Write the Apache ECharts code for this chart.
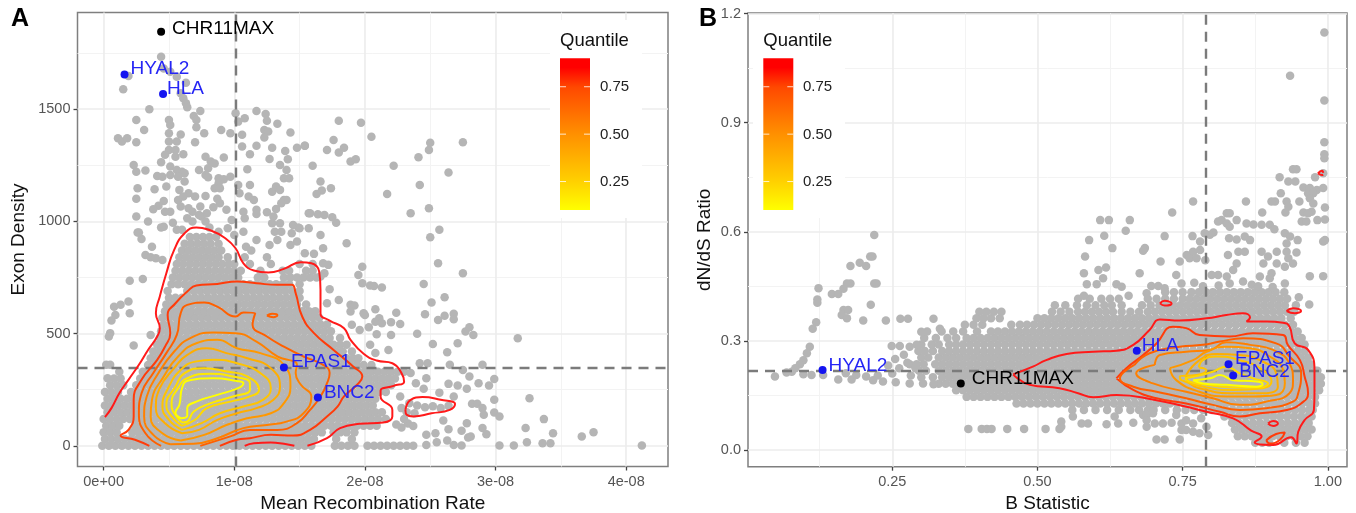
<!DOCTYPE html>
<html>
<head>
<meta charset="utf-8">
<title>Exon density and dN/dS</title>
<script src="https://cdn.jsdelivr.net/npm/echarts@6/dist/echarts.min.js"></script>
<style>
  html, body { margin: 0; padding: 0; background: #fff; }
  #main { width: 1356px; height: 513px; }
</style>
</head>
<body>
<div id="main"></div>
<script>
// panel A: x is in units of 1e-10, y is exon density
const ticksXA = [0, 100, 200, 300, 400];
const labelsXA = ['0e+00', '1e-08', '2e-08', '3e-08', '4e-08'];
const ticksYA = [0, 500, 1000, 1500];
const minorXA = [50, 150, 250, 350];
const minorYA = [250, 750, 1250, 1750];
const cutXA = 101;
const cutYA = 347;

// panel B: x and y are in thousandths
const ticksXB = [250, 500, 750, 1000];
const labelsXB = ['0.25', '0.50', '0.75', '1.00'];
const ticksYB = [0, 300, 600, 900, 1200];
const labelsYB = ['0.0', '0.3', '0.6', '0.9', '1.2'];
const minorXB = [125, 375, 625, 875];
const minorYB = [150, 450, 750, 1050];
const cutXB = 790;
const cutYB = 219;

const geneNames = ['CHR11MAX', 'HYAL2', 'HLA', 'EPAS1', 'BNC2'];
const geneColors = ['#000000', '#1414f0', '#1414f0', '#1414f0', '#1414f0'];
const geneXA = [44, 16, 45.5, 138, 164];
const geneYA = [1844, 1654, 1567, 349, 215];
const geneXB = [368, 130, 671, 829, 837];
const geneYB = [183, 220, 273, 236, 205];

const legendTicks = [0.25, 0.5, 0.75];

// panel A gray points, thick part, [y, [x...]]
const rowsA = [
  [0, [-1,4,9,14,19,24,29,34,39,44,49,54,59,64,69,74,79,84,89,94,99,104,109,114,119,124,129,134,139,144,149,154,159,177,182,187,192,202,207,212,217,222,227,232,237]],
  [30, [1,6,11,16,21,26,31,36,41,46,51,56,61,66,71,76,81,86,91,96,101,106,111,116,121,126,131,136,141,146,151,156,161,178,190]],
  [60, [0,5,10,22,27,32,37,42,47,52,57,62,67,72,77,82,87,92,97,102,107,112,117,122,127,132,137,142,147,152,157,162,167,176,181,186,192]],
  [90, [2,7,12,24,29,34,39,44,49,54,59,64,69,74,79,84,89,94,99,104,109,114,119,124,129,134,139,144,149,154,159,164,169,174,179,184,189,194,199,204,209]],
  [120, [0,5,10,15,20,25,30,35,40,45,50,55,60,65,70,75,80,85,90,95,100,105,110,115,120,125,130,135,140,145,150,155,160,165,170,175,180,185,190,195,200,205,210,216]],
  [150, [3,8,13,18,23,28,33,38,43,48,53,58,63,68,73,78,83,88,93,98,103,108,113,118,123,128,133,138,143,148,153,158,163,168,173,178,183,188,193,198,203,208,213]],
  [180, [1,6,11,16,21,26,31,36,41,46,51,56,61,66,71,76,81,86,91,96,101,106,111,116,121,126,131,136,141,146,151,156,161,166,171,176,181,186,191,196,201,206]],
  [210, [3,8,13,18,23,28,33,38,43,48,53,58,63,68,73,78,83,88,93,98,103,108,113,118,123,128,133,138,143,148,153,158,163,168,173,178,183,188,193,198,203,208]],
  [240, [1,6,11,21,26,31,36,41,46,51,56,61,66,71,76,81,86,91,96,101,106,111,116,121,126,131,136,141,146,151,156,161,166,171,176,181,186,191,196,201,206,211,216]],
  [270, [5,10,15,25,30,35,40,45,50,55,60,65,70,75,80,85,90,95,100,105,110,115,120,125,130,135,140,145,150,155,160,165,170,175,180,185,190,195,200,205,210,215,220]],
  [300, [8,13,28,33,38,43,48,53,58,63,68,73,78,83,88,93,98,103,108,113,118,123,128,133,138,143,148,153,158,163,168,173,178,183,188,193,198,203,208,213,218,223]],
  [330, [12,30,35,40,45,50,55,60,65,70,75,80,85,90,95,100,105,110,115,120,125,130,135,140,145,150,155,160,165,170,175,180,185,190,195,200,205,210,215,220,225,230]],
  [360, [34,39,44,49,54,59,64,69,74,79,84,89,94,99,104,109,114,119,124,129,134,139,144,149,154,159,164,169,174,179,184,189,194,199,205]],
  [390, [36,41,46,51,56,61,66,71,76,81,86,91,96,101,106,111,116,121,126,131,136,141,146,151,156,161,166,171,176,181,186,191,195]],
  [420, [38,43,48,53,58,63,68,73,78,83,88,93,98,103,108,113,118,123,128,133,138,143,148,153,158,163,168,173,178,183,190]],
  [450, [41,46,51,56,61,66,71,76,81,86,91,96,101,106,111,116,121,126,131,136,141,146,151,156,161,166,171,176,181,186]],
  [480, [43,48,53,58,63,68,73,78,83,88,93,98,103,108,113,118,123,128,133,138,143,148,153,158,163,168,173,181]],
  [510, [44,49,54,59,64,69,74,79,84,89,94,99,104,109,114,119,124,129,134,139,144,149,154,159,164,169,174]],
  [540, [46,51,56,61,66,71,76,81,86,91,96,101,106,111,116,121,126,131,136,141,146,151,156,161,166,171]],
  [570, [45,50,55,60,65,70,75,80,85,90,95,100,105,110,115,120,125,130,135,140,145,150,155,160,165]],
  [600, [47,52,57,62,67,72,77,82,87,92,97,102,107,112,117,122,127,132,137,142,147,152,157,162]],
  [630, [48,53,58,63,68,73,78,83,88,93,98,103,108,113,118,123,128,133,138,143,148,155]],
  [660, [50,55,60,65,70,75,80,85,90,95,100,105,110,115,120,125,130,135,140,145,150]],
  [690, [49,64,69,74,79,84,89,94,99,104,109,114,119,124,129,134,139,144,150]],
  [720, [52,57,62,67,72,77,82,87,92,97,102,107,112,117,122,127,132,137,142,150]],
  [750, [53,58,63,68,73,78,83,88,93,98,103,118,123,138,143,148,153,158,163]],
  [780, [55,60,65,70,75,80,85,90,95,100,105,120,137,142,155,160]],
  [810, [56,61,66,71,76,81,86,91,96,100,112,128,150,160]],
  [840, [58,63,68,73,78,83,88,95,108,125]],
  [870, [60,65,70,75,80,85,90,113]],
  [900, [62,67,72,77,82,88]],
  [930, [66,71,76,81,86]]
];

// panel A gray points, thin part
const scatteredA = [
  [44,1733],[19,1647],[15,1588],[46,1681],[51,1666],[56,1644],[63,1617],[59,1570],[61,1548],
  [35,1499],[25,1451],[31,1407],[11,1370],[14,1355],[18,1370],[25,1352],[63,1526],[64,1508],[69,1469],[74,1491],[71,1451],[71,1419],[77,1392],[90,1407],[97,1392],[101,1481],[103,1444],[108,1459],[106,1385],[117,1491],[124,1478],[125,1448],[133,1434],[123,1407],[126,1400],[123,1373],[143,1396],[70,1352],[106,1333],[117,1337],[129,1328],[112,1299],[139,1313],[148,1328],[154,1337],[127,1278],[141,1276],
  [50,1451],[51,1429],[50,1392],[59,1387],[50,1355],[56,1355],[50,1318],[55,1318],[61,1299],[47,1296],[55,1288],[44,1263],[78,1288],[82,1266],[85,1258],[92,1284],[23,1251],[25,1221],[32,1226],
  [51,1244],[56,1229],[60,1221],[62,1214],[51,1206],[41,1202],[45,1199],[57,1199],[62,1177],[73,1229],[80,1236],[78,1206],[80,1196],[88,1192],[92,1187],[97,1199],[88,1169],[85,1147],[89,1147],[110,1232],[112,1162],[140,1229],[135,1251],[138,1192],[142,1192],
  [48,1155],[39,1143],[26,1147],[58,1140],[25,1100],[65,1125],[61,1110],[70,1110],[78,1113],[87,1100],[89,1080],[57,1095],[59,1066],[46,1091],[42,1069],[38,1054],[51,1043],[47,1043],[65,1058],[74,1066],[68,1043],[84,1063],[94,1051],[79,1036],[75,1021],[78,999],[73,1028],[64,1014],[68,999],[25,1021],[34,999],[103,1162],[104,1125],[111,1110],[115,1095],[129,1132],[132,1155],[135,1140],[138,1095],[140,1095],[136,1080],[107,1043],[108,1014],[117,1051],[117,1033],[125,1040],[132,1055],[157,1036],[98,1006],[130,1021],[129,991],[135,991],[131,954],[136,954],[145,984],[149,972],[144,947],[148,910],[133,917],[127,895],[143,895],[107,954],[100,939],[95,969],[117,917],[109,887],[26,950],[29,921],[37,887],[46,976],[44,973],[53,994],[56,962],[60,962],[81,972],[88,954],
  [180,1448],[197,1439],[205,1377],[154,1337],[176,1362],[171,1318],[180,1306],[184,1328],[189,1266],[193,1276],[160,1247],[250,1350],[249,1318],[275,1352],[241,1285],[222,1247],[264,1217],[166,1177],[242,1162],[174,1147],[167,1137],[163,1122],[217,1122],[235,1036],[249,1058],[158,1036],[164,1031],[169,1028],[175,1018],[178,994],[150,969],[157,969],[166,939],[168,880],[186,902],[257,962],[250,929],[154,858],[161,855],[256,813],[275,769],[198,798],[195,761],[198,724],[204,714],[207,712],[213,705],[245,721],[168,813],[172,806],[169,769],[166,754],[173,697],[171,635],[180,650],[189,628],[192,625],[189,598],[208,608],[199,590],[200,583],[224,593],[211,568],[208,553],[213,546],[220,551],[227,543],[251,638],[261,662],[246,586],[261,579],[256,561],[268,588],[268,564],[190,539],[196,516],[203,528],[220,494],[240,499],[209,497],[204,450],[208,413],[218,427],[252,454],[271,457],[263,417],[277,509],[280,528],[283,494],[317,479],[242,368],[248,368],[265,361],[290,361],[275,338],[280,309],[287,279],[295,269],[299,298],[247,301],[264,276],[271,269],[278,254],[245,254],[257,237],[268,220],[299,205],[326,212],[282,187],[286,187],[290,168],[291,138],[299,148],[303,131],[337,119],[260,113],[278,101],[264,74],[274,67],[279,37],[281,42],[290,79],[293,52],[323,79],[344,56],[366,42],[375,61],[412,1],[303,1],[314,1],[324,16],[336,12],[342,12],[247,49],[254,56],[247,4],[255,16],[263,24],[268,4],[274,1],
  [227,220],[228,168],[239,279],[235,324],[234,190],[240,180],[246,172],[252,176],[258,168],[264,178],[232,150],[238,145],[224,95],[228,82],[233,100],[237,88],[230,120],
  [8,620],[13,628],[19,643],[9,583],[6,558],[20,591],[5,502],[4,487],[36,494],[23,447],[20,735],[30,743],[2,361],[5,361],[3,301],[32,850],[36,840],[40,835],[45,828],[27,950]
];

// panel A contour lines, outermost first
const contourA1 = [[1,128],[6,168],[12,234],[19,294],[27,361],[34,427],[41,487],[43,524],[40,591],[43,665],[48,769],[54,873],[62,947],[71,973],[82,959],[92,929],[101,880],[107,813],[115,781],[126,772],[138,788],[151,818],[159,813],[165,776],[166,695],[166,591],[173,558],[184,524],[189,472],[199,410],[209,380],[221,368],[228,324],[230,286],[222,267],[212,246],[212,220],[221,160],[221,131],[214,104],[196,98],[181,79],[171,34],[156,0]];
const contourA1b = [[108,0],[115,12],[128,15],[138,9],[146,0]];
const contourA1c = [[231,160],[235,205],[244,217],[258,205],[269,187],[265,160],[251,145],[237,131],[232,138],[231,160]];
const contourA2 = [[35,0],[24,27],[13,46],[19,71],[23,131],[23,205],[29,294],[41,383],[47,442],[51,502],[49,583],[55,635],[64,687],[71,714],[87,721],[102,732],[117,724],[133,717],[144,717],[147,680],[152,576],[161,502],[176,427],[191,353],[198,309],[194,272],[184,220],[179,175],[171,131],[158,71],[145,46],[128,49],[112,34],[102,27],[89,0]];
const contourA3 = [[44,0],[32,56],[27,145],[29,234],[38,324],[48,413],[56,494],[59,591],[64,628],[77,638],[87,620],[101,576],[107,594],[116,591],[114,539],[125,487],[138,442],[153,398],[168,361],[173,324],[171,279],[166,220],[158,160],[148,101],[133,71],[112,71],[97,42],[74,0]];
const contourA3b = [[125,580],[129,588],[133,582],[130,573],[125,580]];
const contourA4 = [[51,7],[38,49],[31,131],[33,220],[42,324],[54,420],[66,479],[84,505],[101,502],[117,464],[133,398],[148,361],[147,324],[151,272],[159,220],[153,145],[140,108],[125,93],[107,79],[87,34],[69,9],[51,7]];
const contourA5 = [[59,24],[45,56],[36,131],[37,205],[46,309],[57,398],[71,457],[87,472],[102,435],[120,413],[138,361],[143,264],[138,190],[128,145],[110,123],[94,93],[77,49],[59,24]];
const contourA6 = [[60,56],[47,101],[40,168],[43,257],[54,346],[64,405],[79,435],[94,413],[110,390],[128,346],[135,264],[130,205],[117,168],[102,145],[87,116],[73,71],[60,56]];
const contourA7 = [[60,71],[50,116],[45,175],[50,264],[59,338],[70,375],[84,383],[102,368],[120,324],[128,257],[122,205],[107,175],[89,145],[75,101],[60,71]];
const contourA8 = [[60,89],[52,131],[48,183],[55,264],[62,324],[77,346],[94,331],[110,309],[119,249],[112,220],[97,197],[79,168],[70,116],[60,89]];
const contourA9 = [[60,104],[54,145],[52,190],[57,257],[64,301],[82,321],[99,309],[112,279],[112,249],[99,220],[82,190],[69,153],[64,108],[60,104]];
const contourA10 = [[59,123],[55,148],[58,183],[60,257],[65,291],[84,301],[102,289],[107,279],[103,257],[87,227],[71,197],[64,168],[64,134],[59,123]];

// panel B gray points, thick part, [y, [x...]]
const rowsB = [
  [20, [875,887,899,925,945,960]],
  [38, [845,857,869,881,893,905,917,929,941,953,965]],
  [56, [840,852,864,876,888,900,912,924,936,948,960,972]],
  [74, [835,847,859,871,883,895,907,919,931,943,955,967]],
  [92, [822,834,846,858,870,882,894,906,918,930,942,954,966,972]],
  [110, [560,580,600,620,640,660,675,690,700,720,740,755,770,785,800,812,824,836,848,860,872,884,896,908,920,932,944,956,968,974]],
  [128, [464,476,488,500,512,524,536,548,560,572,584,596,608,620,632,644,656,668,680,692,704,716,728,740,752,764,776,788,800,812,824,836,848,860,872,884,896,908,920,932,944,956,968,978]],
  [146, [378,390,402,414,426,438,450,462,474,486,498,510,522,534,546,558,570,582,594,606,618,630,642,654,666,678,690,702,714,726,738,750,762,774,786,798,810,822,834,846,858,870,882,894,906,918,930,942,954,966,978]],
  [164, [360,372,384,396,408,420,432,444,456,468,480,492,504,516,528,540,552,564,576,588,600,612,624,636,648,660,672,684,696,708,720,732,744,756,768,780,792,804,816,828,840,852,864,876,888,900,912,924,936,948,960,972,985]],
  [182, [330,342,354,366,378,390,402,414,426,438,450,462,474,486,498,510,522,534,546,558,570,582,594,606,618,630,642,654,666,678,690,702,714,726,738,750,762,774,786,798,810,822,834,846,858,870,882,894,906,918,930,942,954,966,978,988]],
  [200, [300,320,336,348,360,372,384,396,408,420,432,444,456,468,480,492,504,516,528,540,552,564,576,588,600,612,624,636,648,660,672,684,696,708,720,732,744,756,768,780,792,804,816,828,840,852,864,876,888,900,912,924,936,948,960,972,984,988]],
  [218, [296,308,330,342,354,366,378,390,402,414,426,438,450,462,474,486,498,510,522,534,546,558,570,582,594,606,618,630,642,654,666,678,690,702,714,726,738,750,762,774,786,798,810,822,834,846,858,870,882,894,906,918,930,942,954,966,978,982]],
  [236, [280,292,304,324,336,348,360,372,384,396,408,420,432,444,456,468,480,492,504,516,528,540,552,564,576,588,600,612,624,636,648,660,672,684,696,708,720,732,744,756,768,780,792,804,816,828,840,852,864,876,888,900,912,924,936,948,960,970]],
  [254, [300,312,330,342,354,366,378,390,402,414,426,438,450,462,474,486,498,510,522,534,546,558,570,582,594,606,618,630,642,654,666,678,690,702,714,726,738,750,762,774,786,798,810,822,834,846,858,870,882,894,906,918,930,942,954,966]],
  [272, [295,306,320,336,348,360,372,384,396,408,420,432,444,456,468,480,492,504,516,528,540,552,564,576,588,600,612,624,636,648,660,672,684,696,708,720,732,744,756,768,780,792,804,816,828,840,852,864,876,888,900,912,924,936,948,960]],
  [290, [300,318,330,348,360,372,384,396,408,420,432,444,456,468,480,492,504,516,528,540,552,564,576,588,600,612,624,636,648,660,672,684,696,708,720,732,744,756,768,780,792,804,816,828,840,852,864,876,888,900,912,924,936,948,960]],
  [308, [305,325,345,360,378,390,402,414,426,438,450,462,474,486,498,510,522,534,546,558,570,582,594,606,618,630,642,654,666,678,690,702,714,726,738,750,762,774,786,798,810,822,834,846,858,870,882,894,906,918,930,942,955]],
  [326, [310,335,355,372,396,420,432,444,456,468,480,492,504,516,528,540,552,564,576,588,600,612,624,636,648,660,672,684,696,708,720,732,744,756,768,780,792,804,816,828,840,852,864,876,888,900,912,924,936,948]],
  [344, [375,390,405,455,470,482,494,506,518,530,542,554,566,578,590,602,614,626,638,650,662,674,686,698,710,722,734,746,758,770,782,794,806,818,830,842,854,866,878,890,902,914,926,940]],
  [362, [395,407,420,435,500,512,524,536,548,560,572,584,596,608,620,632,644,656,668,680,692,704,716,728,740,752,764,776,788,800,812,824,836,848,860,872,884,896,908,920,936]],
  [380, [400,412,425,438,525,540,555,570,582,594,606,618,630,645,660,675,690,702,714,726,738,750,762,774,786,798,810,822,834,846,858,870,882,894,906,918,930,942]],
  [398, [530,548,568,585,600,615,628,645,680,695,710,722,734,746,758,770,782,794,806,818,830,842,854,866,878,890,902,914,926,945]],
  [416, [570,590,610,625,640,690,705,720,735,750,762,774,786,798,810,822,834,846,858,870,882,894,906,918,930]],
  [434, [720,735,750,765,778,790,802,814,826,838,850,862,874,886,898,910,925]]
];

// panel B gray points, thin part
const scatteredB = [
  [219,591],[212,532],[216,532],[194,515],[205,506],[178,506],[178,458],[172,458],[219,458],[223,458],[123,445],[166,443],[146,429],[157,429],[121,414],[121,405],[213,399],[166,385],[174,385],[163,371],[172,362],[200,356],[239,356],[264,361],[277,361],[321,361],[119,351],[113,333],[108,284],[103,266],[97,247],[91,236],[83,225],[77,215],[68,213],[48,202],[97,208],[111,206],[131,206],[157,194],[180,194],[188,206],[170,211],[205,202],[217,192],[234,188],[256,186],[280,183],[303,183],[321,181],
  [249,286],[263,286],[280,284],[292,289],[300,325],[332,333],[381,58],[404,58],[413,58],[421,58],[448,58],[477,58],
  [250,210],[262,225],[276,240],[282,205],[290,225],[270,262],[255,250],[243,232],[225,205],
  [541,78],[541,64],[561,92],[576,73],[587,73],[619,71],[633,92],[639,73],[665,75],[682,96],[688,96],[688,64],[688,82],[702,73],[716,73],[731,75],[748,73],[768,73],[748,55],[768,50],[791,64],[782,87],[756,82],[739,96],[699,101],[705,29],[719,29],[745,29],[756,55],[779,46],[794,41],[514,58],[538,58],
  [994,1148],[935,1029],[994,961],[994,846],[994,813],[994,802],[940,772],[946,772],[917,750],[978,750],[992,761],[932,738],[944,738],[958,722],[969,720],[981,715],[992,720],[966,706],[975,706],[919,706],[909,683],[903,683],[929,683],[951,683],[859,683],[969,692],[975,678],[932,669],[995,667],[972,655],[887,653],[927,653],[958,653],[966,651],[955,628],[963,628],[982,632],[995,634],[860,623],[872,620],[886,619],[900,619],[908,607],
  [826,651],[831,651],[817,632],[811,628],[826,623],[843,632],[831,614],[803,598],[797,592],[788,596],[768,683],[732,653],[659,632],[623,632],[608,632],[652,603],[615,589],[589,577],[719,588],[767,588],[780,573],[685,555],[682,548],[629,555],[582,532],[712,518],[757,536],[768,545],[780,550],[762,527],[745,518],[774,527],[789,522],[830,582],[843,579],[857,587],[866,577],[828,536],[846,545],[857,545],[926,596],[935,587],[948,577],[929,568],[992,573],[995,577],[886,545],[912,545],[929,545],[946,543],[897,532],[932,527],[843,513],[889,513],[912,513],[926,504],[940,513],[837,495],[969,478],[992,478],[580,486],[605,495],[618,502],[676,486],[613,472],[585,456],[602,456],[636,456],[645,449],[657,424],[580,424],[688,431],[696,451],[708,451],[719,445],[739,481],[748,458],[800,481],[811,481],[826,477],[883,477],[903,486],[900,472],[926,458],[854,463],[869,454],[831,458],[770,460],[785,450],[812,452],[880,450],[905,448],[950,420],[968,400]
];

// panel B contour lines, outermost first
const contourB1 = [[458,208],[492,229],[515,247],[550,264],[596,270],[636,273],[665,289],[693,330],[711,359],[745,356],[791,362],[825,371],[854,376],[866,365],[860,353],[894,353],[923,350],[934,339],[943,293],[966,275],[977,220],[977,156],[976,110],[960,82],[949,50],[946,18],[937,35],[906,14],[874,21],[886,37],[868,53],[837,87],[791,105],[751,121],[705,137],[636,151],[596,145],[570,156],[538,170],[487,179],[458,208]];
const contourB1b = [[711,403],[719,410],[731,403],[719,397],[711,403]];
const contourB1c = [[929,382],[940,390],[954,382],[943,376],[929,382]];
const contourB1d = [[897,73],[906,80],[914,73],[906,66],[897,73]];
const contourB1e = [[894,27],[911,44],[926,48],[917,27],[900,18],[894,27]];
const contourB1f = [[983,761],[990,768],[992,762]];
const contourB1g = [[983,761],[990,756],[992,757]];
const contourB2 = [[636,197],[653,225],[682,261],[705,293],[733,339],[756,335],[779,316],[831,312],[871,321],[923,316],[931,289],[952,247],[960,202],[966,156],[954,128],[929,110],[883,101],[848,92],[814,105],[756,128],[705,142],[665,165],[636,197]];
const contourB3 = [[667,234],[693,266],[745,284],[785,289],[814,298],[854,307],[911,293],[934,257],[954,211],[949,156],[940,133],[894,115],[848,110],[802,124],[756,142],[705,160],[665,174],[642,197],[667,234]];
const contourB4 = [[702,234],[711,261],[756,270],[797,275],[825,296],[866,289],[906,275],[934,238],[940,192],[934,156],[894,133],[848,124],[802,142],[756,160],[699,183],[670,211],[702,234]];
const contourB5 = [[728,225],[768,247],[791,270],[825,284],[866,280],[900,257],[923,220],[926,183],[911,151],[871,147],[825,147],[779,160],[739,192],[728,225]];
const contourB6 = [[756,206],[779,247],[808,264],[848,261],[888,243],[911,211],[914,174],[888,156],[837,156],[791,165],[759,188],[756,206]];
const contourB7 = [[778,227],[785,247],[808,257],[848,247],[888,220],[903,188],[888,170],[837,165],[791,172],[748,192],[745,202],[774,206],[791,220],[778,227]];
const contourB8 = [[754,197],[774,203],[802,215],[825,229],[848,211],[871,197],[897,183],[883,172],[837,172],[791,179],[762,188],[754,197]];
const contourB9 = [[768,192],[797,197],[814,206],[837,192],[877,188],[888,181],[877,174],[825,179],[785,183],[768,192]];

const contourColors = ['#ff1a1a', '#ff3c0a', '#ff6000', '#ff8000', '#ff9800', '#ffae00', '#ffc400', '#ffd800', '#ffea00', '#ffff00'];

const linesA = [
  [contourA1, 0], [contourA1b, 0], [contourA1c, 0], [contourA2, 1], [contourA3, 2], [contourA3b, 2],
  [contourA4, 3], [contourA5, 4], [contourA6, 5], [contourA7, 6], [contourA8, 7], [contourA9, 8], [contourA10, 9]
];
const linesB = [
  [contourB1, 0], [contourB1b, 0], [contourB1c, 0], [contourB1d, 0], [contourB1e, 1], [contourB1f, 0], [contourB1g, 0],
  [contourB2, 1], [contourB3, 2], [contourB4, 3], [contourB5, 4], [contourB6, 5], [contourB7, 6], [contourB8, 7], [contourB9, 9]
];

const FONT = '"Liberation Sans", Arial, sans-serif';
const GRAY = '#b5b5b5';

function rowsToPoints(rows, extra) {
  const pts = [];
  rows.forEach(function (r) {
    r[1].forEach(function (x) { pts.push([x, r[0]]); });
  });
  return pts.concat(extra);
}

function gridLines(idx, majorX, majorY, minorX, minorY) {
  const major = { color: '#ececec', width: 1.6, type: 'solid' };
  const minor = { color: '#f3f3f3', width: 1, type: 'solid' };
  const data = [];
  minorX.forEach(function (v) { data.push({ xAxis: v, lineStyle: minor }); });
  minorY.forEach(function (v) { data.push({ yAxis: v, lineStyle: minor }); });
  majorX.forEach(function (v) { data.push({ xAxis: v, lineStyle: major }); });
  majorY.forEach(function (v) { data.push({ yAxis: v, lineStyle: major }); });
  return {
    type: 'line', xAxisIndex: idx, yAxisIndex: idx, data: [], z: 1, silent: true,
    markLine: { z: 1, silent: true, symbol: 'none', label: { show: false }, animation: false, data: data }
  };
}

function panelSeries(idx, rows, extra, lines, cutX, cutY, geneX, geneY, offsets) {
  const out = [];
  out.push({
    type: 'scatter', xAxisIndex: idx, yAxisIndex: idx, z: 2, silent: true, progressive: 0,
    symbolSize: 8.5, itemStyle: { color: GRAY, opacity: 1 },
    data: rowsToPoints(rows, extra),
    markLine: {
      z: 3, silent: true, symbol: 'none', label: { show: false }, animation: false,
      lineStyle: { color: '#7b7b7b', width: 2.4, type: [10, 7] },
      data: [{ xAxis: cutX }, { yAxis: cutY }]
    }
  });
  lines.forEach(function (l) {
    out.push({
      type: 'line', xAxisIndex: idx, yAxisIndex: idx, z: 4, silent: true,
      data: l[0], showSymbol: false, smooth: 0.5,
      lineStyle: { color: contourColors[l[1]], width: 2 }
    });
  });
  out.push({
    type: 'scatter', xAxisIndex: idx, yAxisIndex: idx, z: 5, silent: true, symbolSize: 8,
    data: geneNames.map(function (name, i) {
      return {
        name: name,
        value: [geneX[i], geneY[i]],
        itemStyle: { color: geneColors[i], opacity: 1 },
        label: {
          show: true, position: 'right', distance: 0, formatter: name, offset: offsets[i],
          color: i === 0 ? '#000' : '#2525f5', fontSize: 19, fontFamily: FONT
        }
      };
    })
  });
  return out;
}

function legend(boxLeft, barLeft, labelLeft) {
  const top = 58.3, height = 151.7;
  const els = [
    { type: 'rect', z: 1.5, silent: true, shape: { x: boxLeft, y: 20, width: 92, height: 198 }, style: { fill: '#fff' } },
    { type: 'text', z: 1.6, silent: true, x: barLeft, y: 41, style: { text: 'Quantile', font: '18.5px ' + FONT, fill: '#111', textVerticalAlign: 'middle' } },
    {
      type: 'rect', z: 1.6, silent: true, shape: { x: barLeft, y: top, width: 30, height: height },
      style: {
        fill: new echarts.graphic.LinearGradient(0, 0, 0, 1, [
          { offset: 0, color: '#ff0000' }, { offset: 0.06, color: '#ff0000' },
          { offset: 0.19, color: '#ff4800' }, { offset: 0.5, color: '#ff9000' },
          { offset: 0.81, color: '#ffd000' }, { offset: 1, color: '#ffff00' }
        ])
      }
    }
  ];
  legendTicks.forEach(function (v) {
    const y = top + height - (v - 0.1) / 0.8 * height;
    els.push({ type: 'line', z: 1.7, silent: true, shape: { x1: barLeft, y1: y, x2: barLeft + 6, y2: y }, style: { stroke: 'rgba(255,255,255,0.8)', lineWidth: 1 } });
    els.push({ type: 'line', z: 1.7, silent: true, shape: { x1: barLeft + 24, y1: y, x2: barLeft + 30, y2: y }, style: { stroke: 'rgba(255,255,255,0.8)', lineWidth: 1 } });
    els.push({ type: 'text', z: 1.7, silent: true, x: labelLeft, y: y + 0.5, style: { text: v.toFixed(2), font: '15px ' + FONT, fill: '#222', textVerticalAlign: 'middle' } });
  });
  return els;
}

function axis(idx, min, max, ticks, labels, name, nameGap, isY) {
  return {
    type: 'value', gridIndex: idx, min: min, max: max, name: name,
    nameLocation: 'middle', nameGap: nameGap,
    nameTextStyle: { fontSize: 19, color: '#111', fontFamily: FONT },
    splitLine: { show: false },
    axisLine: { show: false, onZero: false },
    axisTick: { show: true, length: 4, customValues: ticks, lineStyle: { color: '#444', width: 1.3 } },
    axisLabel: {
      show: true, customValues: ticks, margin: isY ? 7 : 8, fontSize: 14.5, color: '#555', fontFamily: FONT,
      showMinLabel: true, showMaxLabel: true,
      formatter: function (v) { return labels ? labels[ticks.indexOf(v)] : String(v); }
    }
  };
}

const chart = echarts.init(document.getElementById('main'), null, { renderer: 'canvas' });
chart.setOption({
  animation: false,
  backgroundColor: '#fff',
  grid: [
    { left: 77.5, top: 12.5, width: 590.5, height: 454, outerBoundsMode: 'none', show: true, borderColor: '#7f7f7f', borderWidth: 1.5, backgroundColor: '#fff' },
    { left: 748, top: 13, width: 599, height: 453.7, outerBoundsMode: 'none', show: true, borderColor: '#7f7f7f', borderWidth: 1.5, backgroundColor: '#fff' }
  ],
  xAxis: [
    axis(0, -20, 432, ticksXA, labelsXA, 'Mean Recombination Rate', 27, false),
    axis(1, 1.6, 1033, ticksXB, labelsXB, 'B Statistic', 27, false)
  ],
  yAxis: [
    axis(0, -92, 1930, ticksYA, null, 'Exon Density', 49, true),
    axis(1, -46, 1201.5, ticksYB, labelsYB, 'dN/dS Ratio', 34, true)
  ],
  graphic: [
    { type: 'text', silent: true, x: 11, y: 19, z: 6, style: { text: 'A', font: 'bold 25px ' + FONT, fill: '#000', textVerticalAlign: 'middle' } },
    { type: 'text', silent: true, x: 699, y: 19, z: 6, style: { text: 'B', font: 'bold 25px ' + FONT, fill: '#000', textVerticalAlign: 'middle' } }
  ].concat(legend(550, 560, 600), legend(753, 763.3, 803)),
  series: [
    gridLines(0, ticksXA, ticksYA, minorXA, minorYA),
    gridLines(1, ticksXB, ticksYB, minorXB, minorYB)
  ].concat(
    panelSeries(0, rowsA, scatteredA, linesA, cutXA, cutYA, geneXA, geneYA, [[7, -3], [2, -5.5], [0, -5], [3, -5.5], [2, -5]]),
    panelSeries(1, rowsB, scatteredB, linesB, cutXB, cutYB, geneXB, geneYB, [[7, -5], [2, -4], [1, -5], [2.5, -5], [2, -4]])
  )
});
</script>
</body>
</html>
